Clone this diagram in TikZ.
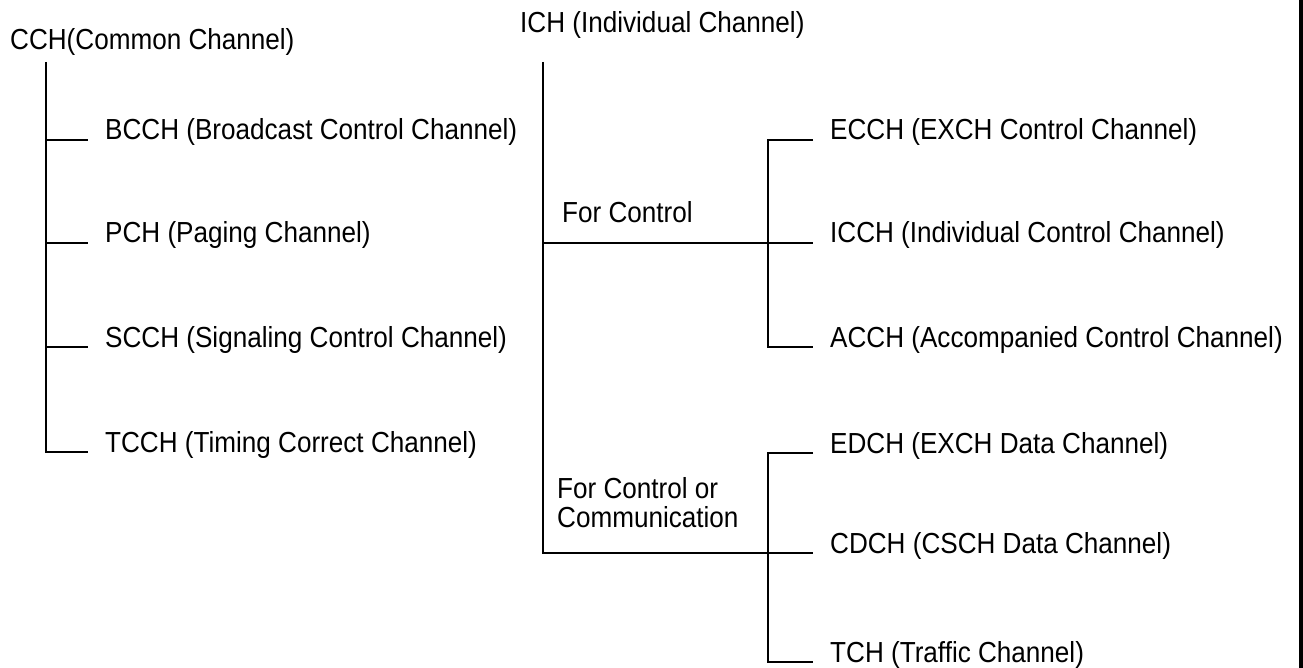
\documentclass[tikz,border=0pt]{standalone}
\usepackage{fontspec}
\setmainfont{Liberation Sans}[FakeStretch=0.9]
\usetikzlibrary{positioning}

\begin{document}
\begin{tikzpicture}
        [x=1pt,y=-1pt,
         chan/.style={anchor=base west,inner sep=0pt,font=\fontsize{29}{29}\selectfont},
         group/.style={chan,align=left},
         tree/.style={line width=1.8pt}]
      \useasboundingbox (0,0) rectangle (1303,668);

      % common channels
      \node[chan] (CCH)  at (10,50)   {CCH(Common Channel)};
      \node[chan] (BCCH) at (105,140) {BCCH (Broadcast Control Channel)};
      \node[chan] (PCH)  at (105,243) {PCH (Paging Channel)};
      \node[chan] (SCCH) at (105,347) {SCCH (Signaling Control Channel)};
      \node[chan] (TCCH) at (105,452) {TCCH (Timing Correct Channel)};
      \coordinate (cstem) at (46,62);

      % individual channels
      \node[chan] (ICH)  at (520,33)  {ICH (Individual Channel)};
      \node[group] (fctl) at (562,223) {For Control};
      \node[group] (fcom) at (557,527) {For Control or\\Communication};
      \node[chan] (ECCH) at (830,140) {ECCH (EXCH Control Channel)};
      \node[chan] (ICCH) at (830,243) {ICCH (Individual Control Channel)};
      \node[chan] (ACCH) at (830,347) {ACCH (Accompanied Control Channel)};
      \node[chan] (EDCH) at (830,453) {EDCH (EXCH Data Channel)};
      \node[chan] (CDCH) at (830,553) {CDCH (CSCH Data Channel)};
      \node[chan] (TCH)  at (830,662) {TCH (Traffic Channel)};
      \coordinate (istem) at (543,62);
      \coordinate (rbar) at (768,0);

      \draw[tree] (cstem) |- ([xshift=-17pt]TCCH.base west);
      \foreach \n in {BCCH,PCH,SCCH}
        \draw[tree] (cstem |- \n.base west) -- ([xshift=-17pt]\n.base west);

      \draw[tree] (istem) |- ([xshift=-17pt]CDCH.base west);
      \draw[tree] (istem |- ICCH.base west) -- ([xshift=-17pt]ICCH.base west);
      \draw[tree] ([xshift=-17pt]ECCH.base west) -| (rbar |- ACCH.base west)
                  -- ([xshift=-17pt]ACCH.base west);
      \draw[tree] ([xshift=-17pt]EDCH.base west) -| (rbar |- TCH.base west)
                  -- ([xshift=-17pt]TCH.base west);

      % frame edge
      \draw[line width=4.5pt] (1300.75,0) -- (1300.75,668);
\end{tikzpicture}
\end{document}
